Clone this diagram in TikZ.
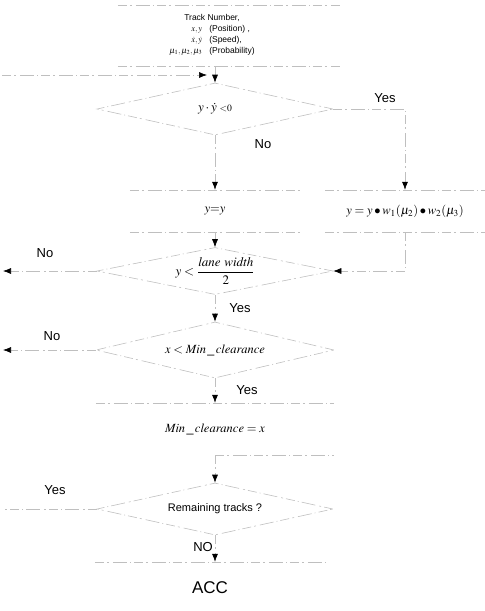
\documentclass[tikz,border=0pt]{standalone}
\usepackage{amsmath}
\usepackage{mathptmx}
\usepackage[no-math]{fontspec}
\setmainfont{Liberation Sans}
\usetikzlibrary{shapes.geometric,arrows.meta}
\begin{document}
\begin{tikzpicture}[x=1pt,y=-1pt,
  ln/.style={draw=gray!50, line width=0.6pt, dash pattern=on 9pt off 3pt on 2pt off 4pt on 14pt off 3pt on 1pt off 3pt},
  dmd/.style={diamond, ln, minimum width=236pt, minimum height=52pt, aspect=4.54, inner sep=0pt, font=\fontsize{11}{12}\selectfont},
  arr/.style={ln, -{Latex[length=8pt,width=6pt,color=black]}},
  lab/.style={font=\fontsize{13}{13}\selectfont, inner sep=0pt},
  boxn/.style={inner sep=0pt, font=\fontsize{12.5}{13}\selectfont}
]
\useasboundingbox (0,0) rectangle (485,611);

% nodes
\node[boxn, minimum width=222pt, minimum height=61pt] (in) at (229,36) {};
\node[inner sep=0pt, font=\fontsize{8.5}{10}\selectfont] (intxt) at (212,35)
  {\begin{tabular}{@{}r@{\hspace{7pt}}l@{}}
   \multicolumn{2}{c}{Track Number,}\\[0.5pt]
   $x,y$ & (Position) ,\\[1.5pt]
   $\dot x,\dot y$ & (Speed),\\[0.5pt]
   $\mu_1,\mu_2,\mu_3$ & (Probability)
   \end{tabular}};
\node[dmd, font=\fontsize{13}{14}\selectfont] (d1) at (215,109) {$y\cdot\dot y\;{\scriptstyle <0}$};
\node[boxn, minimum width=170pt, minimum height=42pt] (b2) at (215,211) {$y{=}y$};
\node[boxn, minimum width=160pt, minimum height=42pt] (b3) at (405,211) {$y = y\bullet w_1(\mu_2)\bullet w_2(\mu_3)$};
\node[dmd, minimum height=47pt, aspect=5.02, font=\fontsize{13}{14}\selectfont] (d3) at (215,271) {$y<\dfrac{\mathit{lane\ width}}{2}$};
\node[dmd, minimum width=238pt, minimum height=56pt, aspect=4.25, font=\fontsize{12.5}{14}\selectfont] (d4) at (215,350) {$x<\mathit{Min}\,\_\,\mathit{clearance}$};
\node[boxn, minimum width=238pt, minimum height=52pt] (b5) at (215,429) {$\mathit{Min}\,\_\,\mathit{clearance}=x$};
\node[dmd] (d6) at (215,509) {Remaining tracks ?};
\node[boxn, minimum width=230pt, minimum height=52pt, font=\fontsize{17}{18}\selectfont] (acc) at (210,588) {ACC};

% box edges
\draw[ln] (in.north west) -- (in.north east);
\draw[ln] (in.south west) -- (in.south east);
\draw[ln] (b2.north west) -- (b2.north east);
\draw[ln] (b2.south west) -- (b2.south east);
\draw[ln] (b3.north west) -- (b3.north east);
\draw[ln] (b3.south west) -- (b3.south east);
\draw[ln] (b5.north west) -- (b5.north east);
\draw[ln] (b5.south) -- (b5.south east);
\draw[ln] (acc.north west) -- (acc.north east);

% free ends
\coordinate (entryL) at (2,75);
\coordinate (entryR) at (207,75);
\coordinate (n3) at (3,271);
\coordinate (n4) at (3,350);
\coordinate (y6) at (3,509);

% connectors
\draw[arr] (entryL) -- (entryR);
\draw[arr] (in.south -| d1.north) -- (d1.north);
\draw[arr] (d1.south) -- (b2.north);
\draw[arr] (d1.east) -| (b3.north);
\draw[arr] (b2.south) -- (d3.north);
\draw[arr] (b3.south) |- (d3.east);
\draw[arr] (d3.west) -- (n3);
\draw[arr] (d3.south) -- (d4.north);
\draw[arr] (d4.west) -- (n4);
\draw[arr] (d4.south) -- (b5.north);
\draw[arr] (b5.south) -- (d6.north);
\draw[ln] (d6.west) -- (y6);
\draw[arr] (d6.south) -- (acc.north -| d6.south);

% labels
\node[lab] (l1) at (385,98) {Yes};
\node[lab] (l2) at (263,144) {No};
\node[lab] (l3) at (45,253) {No};
\node[lab] (l4) at (240,308) {Yes};
\node[lab] (l5) at (52,336) {No};
\node[lab] (l6) at (247,390) {Yes};
\node[lab] (l7) at (55,490) {Yes};
\node[lab] (l8) at (203,547) {NO};
\end{tikzpicture}
\end{document}
